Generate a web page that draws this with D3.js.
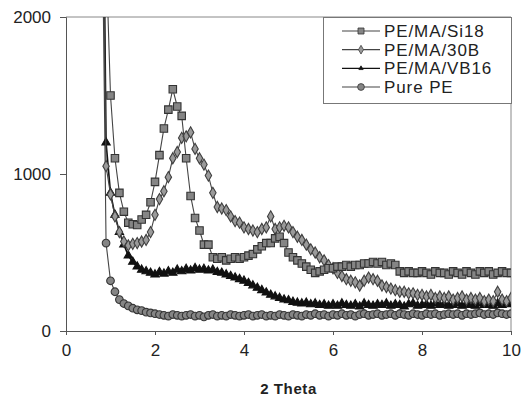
<!DOCTYPE html>
<html>
<head>
<meta charset="utf-8">
<script src="https://cdn.jsdelivr.net/npm/d3@7"></script>
<style>
  body { margin: 0; background: #fff; }
  svg { display: block; font-family: "Liberation Sans", Arial, sans-serif; }
</style>
</head>
<body>
<svg width="524" height="396"></svg>
<script>
// 2 theta sampling, 0.8 .. 10.0 step 0.1
const theta = d3.range(8, 101).map(function (i) { return i / 10; });

const si18 = [5000, 2400, 1500, 1100, 880, 760, 690, 680, 675, 710,
    740, 820, 950, 1120, 1290, 1410, 1540, 1430, 1370, 1100,
    860, 720, 640, 550, 550, 470, 460, 470, 450, 460,
    470, 460, 470, 480, 490, 520, 540, 560, 560, 590,
    600, 560, 500, 470, 450, 430, 410, 390, 370, 380,
    390, 400, 400, 410, 410, 420, 410, 420, 420, 430,
    430, 440, 430, 440, 420, 430, 420, 380, 370, 380,
    370, 370, 380, 370, 360, 380, 370, 370, 360, 380,
    370, 360, 380, 370, 360, 380, 370, 380, 360, 370,
    380, 370, 370];

const b30 = [3500, 1050, 870, 730, 630, 570, 545, 555, 560, 570,
    580, 630, 740, 840, 890, 980, 1100, 1140, 1230, 1240,
    1265, 1160, 1100, 1060, 990, 880, 790, 780, 770, 730,
    700, 690, 660, 650, 640, 630, 650, 660, 730, 650,
    660, 670, 660, 630, 600, 580, 550, 520, 500, 470,
    450, 420, 400, 370, 350, 330, 320, 310, 290, 320,
    340, 330, 320, 290, 280, 270, 260, 250, 250, 240,
    240, 230, 230, 220, 230, 210, 220, 210, 220, 200,
    210, 220, 200, 210, 200, 210, 190, 200, 190, 250,
    200, 190, 210];

const vb16 = [4000, 1200, 880, 740, 630, 550, 480, 440, 410, 390,
    380, 370, 360, 375, 365, 380, 370, 390, 380, 395,
    385, 400, 390, 395, 385, 390, 375, 370, 360, 350,
    340, 330, 320, 305, 290, 275, 260, 245, 230, 220,
    210, 200, 195, 185, 180, 175, 180, 170, 175, 165,
    170, 160, 170, 160, 175, 165, 160, 170, 155, 175,
    165, 160, 170, 165, 175, 160, 170, 165, 155, 170,
    175, 160, 165, 170, 160, 175, 165, 170, 160, 165,
    175, 160, 170, 165, 160, 175, 165, 170, 160, 175,
    165, 170, 175];

const purePE = [3000, 560, 320, 250, 200, 175, 160, 145, 135, 130,
    120, 115, 110, 105, 100, 95, 105, 100, 95, 100,
    105, 95, 100, 90, 100, 105, 95, 100, 95, 105,
    100, 95, 100, 105, 95, 100, 105, 95, 100, 95,
    105, 100, 95, 105, 100, 95, 105, 100, 110, 100,
    105, 95, 105, 100, 110, 100, 105, 95, 105, 110,
    100, 105, 110, 100, 105, 110, 100, 110, 105, 100,
    110, 105, 100, 110, 105, 110, 100, 105, 110, 105,
    110, 100, 110, 105, 110, 115, 105, 110, 105, 115,
    110, 105, 110];

const seriesNames = ['PE/MA/Si18', 'PE/MA/30B', 'PE/MA/VB16', 'Pure PE'];
const xTicks = [0, 2, 4, 6, 8, 10];
const yTicks = [0, 1000, 2000];

const styles = {
    'PE/MA/Si18': {data: si18, shape: d3.symbolSquare, size: 56, fill: '#858585', stroke: '#333', line: '#444', lsize: 36},
    'PE/MA/30B': {data: b30, shape: d3.symbolDiamond, size: 36, fill: '#9a9a9a', stroke: '#3f3f3f', line: '#444', lsize: 22},
    'PE/MA/VB16': {data: vb16, shape: d3.symbolTriangle, size: 30, fill: '#111', stroke: '#111', line: '#111', lsize: 8},
    'Pure PE': {data: purePE, shape: d3.symbolCircle, size: 46, fill: '#858585', stroke: '#363636', line: '#444', lsize: 36}
};

const svg = d3.select('svg'),
    margin = {top: 17, right: 13, bottom: 65, left: 66},
    width = +svg.attr('width'),
    height = +svg.attr('height');

const x = d3.scaleLinear().domain([0, 10]).range([margin.left, width - margin.right]);
const y = d3.scaleLinear().domain([0, 2000]).range([height - margin.bottom, margin.top]);

svg.append('clipPath').attr('id', 'plot')
    .append('rect')
    .attr('x', x(0)).attr('y', y(2000))
    .attr('width', x(10) - x(0)).attr('height', y(0) - y(2000));

// frame (top + right)
svg.append('path')
    .attr('d', 'M' + x(0) + ',' + y(2000) + 'H' + x(10) + 'V' + y(0))
    .attr('fill', 'none').attr('stroke', '#888').attr('stroke-width', 1);

// series, Pure PE first so Si18 ends on top
const drawOrder = seriesNames.slice().reverse();
const plot = svg.append('g').attr('clip-path', 'url(#plot)');

drawOrder.forEach(function (name) {
    const s = styles[name];
    const pts = theta.map(function (t, i) { return [t, s.data[i]]; });
    const line = d3.line()
        .x(function (d) { return x(d[0]); })
        .y(function (d) { return y(d[1]); });
    plot.append('path')
        .datum(pts)
        .attr('d', line)
        .attr('fill', 'none')
        .attr('stroke', s.line)
        .attr('stroke-width', name === 'PE/MA/VB16' ? 1.6 : 1.1);
    plot.append('g')
        .selectAll('path')
        .data(pts)
        .enter().append('path')
        .attr('transform', function (d) { return 'translate(' + x(d[0]) + ',' + y(d[1]) + ')'; })
        .attr('d', d3.symbol().type(s.shape).size(s.size))
        .attr('fill', s.fill)
        .attr('stroke', s.stroke)
        .attr('stroke-width', 1.1);
});

// axes
const xAxis = svg.append('g')
    .attr('transform', 'translate(0,' + y(0) + ')')
    .call(d3.axisBottom(x).tickValues(xTicks).tickSize(4).tickPadding(9).tickFormat(d3.format('d')));
const yAxis = svg.append('g')
    .attr('transform', 'translate(' + x(0) + ',0)')
    .call(d3.axisLeft(y).tickValues(yTicks).tickSize(6).tickPadding(9).tickFormat(d3.format('d')));

[xAxis, yAxis].forEach(function (a) {
    a.select('.domain').attr('stroke', '#555');
    a.selectAll('.tick line').attr('stroke', '#555');
    a.selectAll('.tick text')
        .attr('fill', '#222')
        .style('font-size', '17px')
        .style('font-family', '"Liberation Sans", Arial, sans-serif');
});

svg.append('text')
    .attr('x', (x(0) + x(10)) / 2)
    .attr('y', 394)
    .attr('text-anchor', 'middle')
    .attr('fill', '#222')
    .style('font-size', '15px')
    .style('font-weight', 'bold')
    .style('letter-spacing', '0.6px')
    .text('2 Theta');

// legend
const legend = svg.append('g');
legend.append('rect')
    .attr('x', 323.5).attr('y', 17.5)
    .attr('width', 188).attr('height', 86)
    .attr('fill', '#fff').attr('stroke', '#777');

const rowY = d3.scalePoint().domain(seriesNames).range([31, 87]);

const item = legend.selectAll('g.item')
    .data(seriesNames)
    .enter().append('g')
    .attr('class', 'item')
    .attr('transform', function (d) { return 'translate(0,' + rowY(d) + ')'; });

item.append('line')
    .attr('x1', 342).attr('x2', 380)
    .attr('stroke', function (d) { return styles[d].line; })
    .attr('stroke-width', 1.2);
item.append('path')
    .attr('transform', 'translate(361,0)')
    .attr('d', function (d) { return d3.symbol().type(styles[d].shape).size(styles[d].lsize)(); })
    .attr('fill', function (d) { return styles[d].fill; })
    .attr('stroke', function (d) { return styles[d].stroke; })
    .attr('stroke-width', 0.8);
item.append('text')
    .attr('x', 384)
    .attr('y', 6)
    .attr('fill', '#222')
    .style('font-size', '17px')
    .style('letter-spacing', '0.9px')
    .text(function (d) { return d; });
</script>
</body>
</html>
